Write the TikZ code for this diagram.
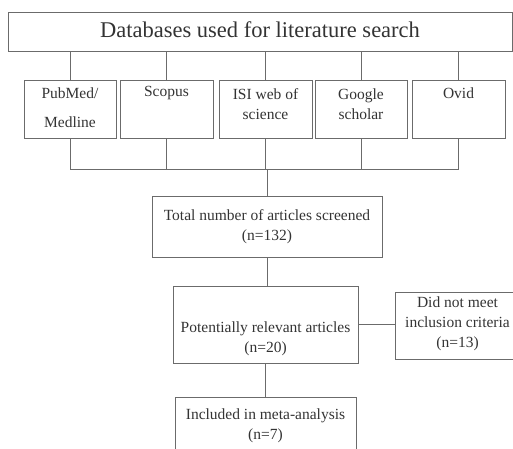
\documentclass[tikz,border=0pt]{standalone}
\usepackage{fontspec}
\setmainfont{Liberation Serif}
\usepackage{xcolor}
\usetikzlibrary{calc}
\colorlet{lgray}{black!58}
\colorlet{tgray}{black!80}
\tikzstyle{box}=[draw=lgray,line width=1pt,inner sep=0pt]
\tikzstyle{txt}=[text=tgray,align=center,inner sep=0pt,font=\fontsize{15.5}{20}\selectfont]
\tikzstyle{link}=[draw=lgray,line width=1pt]
\begin{document}
\begin{tikzpicture}[x=1pt,y=-1pt]
	\useasboundingbox (0,0) rectangle (513,448);
	\clip (0,0) rectangle (513,448);
	\node[box,minimum width=504,minimum height=39] (db) at (260,31.5) {};
	\node[txt,font=\fontsize{22.5}{26}\selectfont] (db-t) at (260,30) {Databases used for literature search};
	% database boxes
	\node[box,minimum width=92,minimum height=58] (pubmed) at (70,109) {};
	\node[box,minimum width=93,minimum height=58] (scopus) at (166.5,109) {};
	\node[box,minimum width=93,minimum height=58] (isi)    at (265.5,109) {};
	\node[box,minimum width=92,minimum height=58] (google) at (361,109) {};
	\node[box,minimum width=93,minimum height=58] (ovid)   at (458.5,109) {};
	\node[txt] (pubmed-t) at (70,108) {PubMed/\\[9pt]Medline};
	\node[txt] (scopus-t) at (166.5,93) {Scopus};
	\node[txt] (isi-t)    at (265.5,104) {ISI web of\\science};
	\node[txt] (google-t) at (361,104) {Google\\scholar};
	\node[txt] (ovid-t)   at (458.5,93) {Ovid};
	\foreach \d in {pubmed,scopus,isi,google,ovid}
		\draw[link] (db.south -| \d.north) -- (\d.north);
	% screening steps
	\node[box,minimum width=230,minimum height=61] (total) at (267,226.5) {};
	\node[txt] (total-t) at (267,227) {Total number of articles screened\\(n=132)};
	\node[box,minimum width=185,minimum height=77] (pot) at (265.5,324.5) {};
	\node[txt] (pot-t) at (265.5,339) {Potentially relevant articles\\(n=20)};
	\node[box,minimum width=150,minimum height=67] (dnm) at (470,325.5) {};
	\node[txt] (dnm-t) at (457.5,324) {Did not meet\\inclusion criteria\\(n=13)};
	\node[box,minimum width=181,minimum height=58] (inc) at (265.5,426) {};
	\node[txt] (inc-t) at (265.5,426) {Included in meta-analysis\\(n=7)};
	\coordinate (join) at (267,169);
	\foreach \d in {pubmed,scopus,isi,google,ovid}
		\draw[link] (\d.south) -- (\d.south |- join);
	\draw[link] (pubmed.south |- join) -- (ovid.south |- join);
	\draw[link] (join) -- (total.north);
	\draw[link] (total.south) -- (total.south |- pot.north);
	\draw[link] (pot.east) -- (pot.east -| dnm.west);
	\draw[link] (pot.south) -- (inc.north);
\end{tikzpicture}
\end{document}
